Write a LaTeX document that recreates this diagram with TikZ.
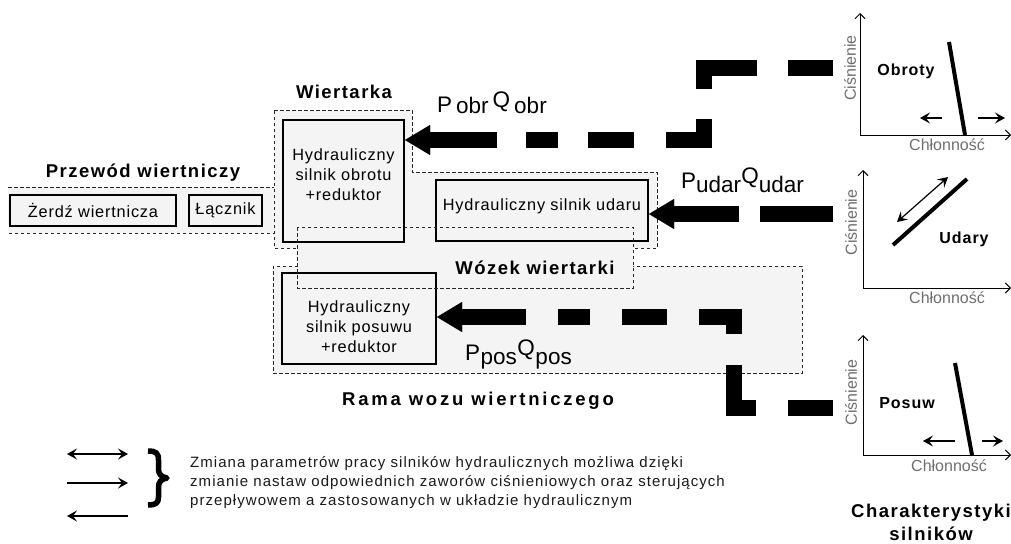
\documentclass[tikz,border=0pt]{standalone}
\usepackage{fontspec}
\setmainfont{Liberation Sans}
\usetikzlibrary{arrows.meta}
\definecolor{panel}{HTML}{F4F4F4}
\definecolor{axislbl}{HTML}{6E6E6E}

% pressure/flow label: P_sub Q_sub with the Q raised; #3 = extra gap between parts
\newcommand\PQlabel[3]{P\kern#3\raisebox{-#2}{#1}\kern#3\raisebox{5pt}{Q}\kern#3\raisebox{-#2}{#1}}

\begin{document}
\begin{tikzpicture}[x=1pt,y=-1pt,
  region/.style={draw=black!85, fill=panel, line width=0.9pt, dash pattern=on 3.5pt off 2.5pt},
  regionline/.style={draw=black!85, line width=0.9pt, dash pattern=on 3.5pt off 2.5pt},
  motor/.style={draw=black, fill=panel, line width=2pt, inner sep=0pt},
  boxtext/.style={font=\fontsize{16.3}{20}\selectfont\addfontfeature{LetterSpace=5}, align=center, inner sep=0pt},
  title/.style={font=\fontsize{18.5}{23}\selectfont\bfseries\addfontfeature{LetterSpace=8}, align=center, inner sep=0pt},
  widetitle/.style={font=\fontsize{18.5}{23}\selectfont\bfseries\addfontfeature{LetterSpace=15}, align=center, inner sep=0pt},
  flow/.style={line width=16pt, line join=miter, -{Triangle[length=25pt,width=30pt,line width=0.01pt]}},
  qlabel/.style={font=\fontsize{22.5}{26}\selectfont, anchor=base west, inner sep=0pt},
  axis/.style={line width=1pt, -{Straight Barb[length=5pt,width=10pt,line width=1pt]}},
  axlbl/.style={font=\fontsize{16}{18}\selectfont, text=axislbl, inner sep=0pt},
  curve/.style={line width=4pt},
  hint/.style={line width=1.2pt, -{Stealth[length=10pt,width=11pt,inset=4pt]}},
  hintboth/.style={line width=1.2pt, {Stealth[length=10pt,width=11pt,inset=4pt]}-{Stealth[length=10pt,width=11pt,inset=4pt]}},
  chartname/.style={font=\fontsize{16}{18}\selectfont\bfseries\addfontfeature{LetterSpace=6}, inner sep=0pt, anchor=base},
  legendtext/.style={font=\fontsize{15}{19}\selectfont\addfontfeature{LetterSpace=7}, text=black!90, align=left, inner sep=0pt},
  bracestroke/.style={line width=5.5pt, line join=round},
]
\useasboundingbox (0,0) rectangle (1011,543);

% ---- frames of the machine groups ----
\node[region, outer sep=0pt, minimum width=529pt, minimum height=107pt, anchor=north west] (rama) at (273,266) {};
\node[fill=panel, outer sep=0pt, inner sep=0pt, minimum width=267pt, minimum height=46pt, anchor=north west] (przewod) at (8,187) {};
\draw[regionline] (przewod.north west) -- (przewod.north east) -- (przewod.south east) -- (przewod.south west);
\draw[region] (274,110) -- (412,110) -- (412,172) -- (657,172) -- (657,248) -- (274,248) -- cycle;
\node[fill=panel, outer sep=0pt, inner sep=0pt, minimum width=336pt, minimum height=61pt, anchor=north west] (wozek) at (297,227) {};

% ---- motors and drill string parts ----
\node[motor, minimum width=166pt, minimum height=31pt, boxtext] (zerdz) at (93,210.5) {Żerdź wiertnicza};
\node[motor, minimum width=73pt, minimum height=31pt, boxtext] (lacznik) at (225.5,210.5) {Łącznik};
\node[motor, minimum width=121pt, minimum height=122pt] (obrot) at (343.5,181) {};
\node[motor, minimum width=212pt, minimum height=61pt] (udar) at (542,210.5) {};
\node[motor, minimum width=154pt, minimum height=91pt] (posuw) at (359,318.5) {};
\node[boxtext, anchor=north] (obrotT) at (343.5,148) {Hydrauliczny\\silnik obrotu\\+reduktor};
\node[boxtext, anchor=base] (udarT) at (542,210) {Hydrauliczny silnik udaru};
\node[boxtext, anchor=north] (posuwT) at (359,300) {Hydrauliczny\\silnik posuwu\\+reduktor};

\draw[regionline] (wozek.north west) rectangle (wozek.south east);

% ---- group titles ----
\node[title, anchor=base] (tPrzewod) at (143,177) {Przewód wiertniczy};
\node[title, anchor=base] (tWiertarka) at (344,98) {Wiertarka};
\node[title, anchor=base] (tWozek) at (535,274) {Wózek wiertarki};
\node[widetitle, anchor=base] (tRama) at (478,405) {Rama wozu wiertniczego};
\node[title, anchor=north] (tChar) at (931,504) {Charakterystyki\\silników};

% ---- supply lines ----
\coordinate (obrIn) at (833,68);
\coordinate (obrK1) at (703.5,68);
\coordinate (obrK2) at (703.5,140);
\draw[flow, dash pattern=on 45pt off 31pt on 74.5pt off 30pt on 58.5pt off 32pt on 46pt off 30pt on 32pt off 29pt on 400pt]
  (obrIn) -- (obrK1) -- (obrK2) -- (obrot.east |- obrK2);

\coordinate (udarIn) at (833,214);
\draw[flow, dash pattern=on 73pt off 21pt on 400pt] (udarIn) -- (udar.east |- udarIn);

\coordinate (posIn) at (833,408);
\coordinate (posK1) at (733.5,408);
\coordinate (posK2) at (733.5,317);
\draw[flow, dash pattern=on 45pt off 32pt on 65.5pt off 31pt on 51.5pt off 32pt on 45pt off 32pt on 32pt off 32pt on 400pt]
  (posIn) -- (posK1) -- (posK2) -- (posuw.east |- posK2);

\node[qlabel] (lObr) at (437,112) {\PQlabel{obr}{1pt}{4pt}};
\node[qlabel] (lUdar) at (681,188) {\PQlabel{udar}{4pt}{0pt}};
\node[qlabel] (lPos) at (465,360) {\PQlabel{pos}{4.5pt}{0.5pt}};

% ---- characteristic: rotation ----
\coordinate (o1) at (860,135);
\draw[axis] (o1) -- (860,13);
\draw[axis] (o1) -- (1011,135);
\node[axlbl, rotate=90] (c1y) at (850,68) {Ciśnienie};
\node[axlbl] (c1x) at (947,145) {Chłonność};
\draw[curve] (949,42) -- (965,135);
\node[chartname] (n1) at (906,75) {Obroty};
\draw[hint] (942,118) -- (920,118);
\draw[hint] (978,118) -- (1005,118);

% ---- characteristic: percussion ----
\coordinate (o2) at (863,288);
\draw[axis] (o2) -- (863,170);
\draw[axis] (o2) -- (1011,288);
\node[axlbl, rotate=90] (c2y) at (851,222.5) {Ciśnienie};
\node[axlbl] (c2x) at (947,298) {Chłonność};
\draw[curve] (893,245) -- (967,179);
\draw[hintboth] (897,222) -- (948,177);
\node[chartname] (n2) at (964,243) {Udary};

% ---- characteristic: feed ----
\coordinate (o3) at (863,455);
\draw[axis] (o3) -- (863,335);
\draw[axis] (o3) -- (1011,455);
\node[axlbl, rotate=90] (c3y) at (851,392.5) {Ciśnienie};
\node[axlbl] (c3x) at (949,466) {Chłonność};
\draw[curve] (955,363) -- (972,455);
\node[chartname] (n3) at (907,408) {Posuw};
\draw[hint] (955,441) -- (923,441);
\draw[hint] (982,441) -- (1003,441);

% ---- legend ----
\coordinate (lg1a) at (67,454); \coordinate (lg1b) at (128,454);
\coordinate (lg2a) at (67,483); \coordinate (lg2b) at (128,483);
\coordinate (lg3a) at (67,516); \coordinate (lg3b) at (128,516);
\draw[hintboth] (lg1a) -- (lg1b);
\draw[hint] (lg2a) -- (lg2b);
\draw[hint] (lg3b) -- (lg3a);
% heavy closing brace
\draw[bracestroke] (148,451) .. controls (156,451) and (158.5,453) .. (158.5,460)
  -- (158.5,469) .. controls (158.5,474) and (161,477) .. (167,478)
  .. controls (161,479) and (158.5,482) .. (158.5,487)
  -- (158.5,497) .. controls (158.5,503) and (156,505) .. (148,505);
\node[legendtext, anchor=north west] (note) at (190,456)
  {Zmiana parametrów pracy silników hydraulicznych możliwa dzięki\\
   zmianie nastaw odpowiednich zaworów ciśnieniowych oraz sterujących\\
   przepływowem a zastosowanych w układzie hydraulicznym};
\end{tikzpicture}
\end{document}
